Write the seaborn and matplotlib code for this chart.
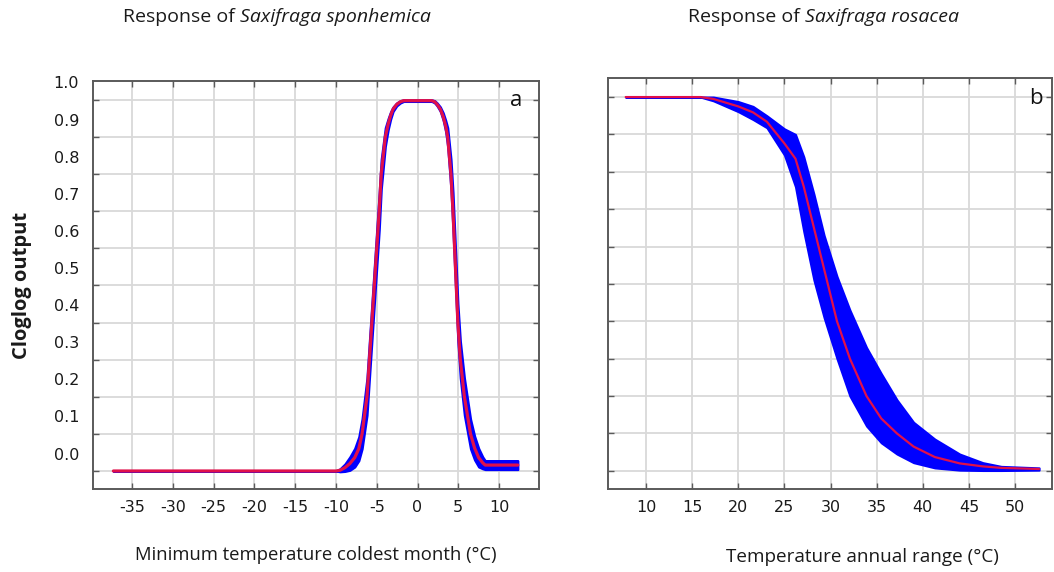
import numpy as np
import pandas as pd
import seaborn as sns
import matplotlib
matplotlib.use("Agg")
import matplotlib.pyplot as plt
from matplotlib.ticker import FixedLocator, FixedFormatter, NullFormatter

# ---------------- data ----------------
# panel a: Minimum temperature coldest month
x_a = [-37.3, -10.0, -9.5, -8.9, -8.3, -7.7, -7.2, -6.8, -6.2, -5.9, -5.6, -5.3, -5.0, -4.7,
       -4.45, -3.95, -3.6, -3.3, -3.0, -2.55, -2.1, -1.7, 0.0, 1.75, 2.1, 2.4, 2.8, 3.15,
       3.45, 3.7, 4.1, 4.35, 4.55, 4.75, 4.95, 5.25, 5.75, 6.5, 7.0, 7.5, 8.0, 8.3, 12.3]
mean_a = [0.0, 0.0, 0.002, 0.009, 0.02, 0.036, 0.06, 0.1, 0.2, 0.3, 0.4, 0.5, 0.6, 0.7,
          0.8, 0.9, 0.935, 0.958, 0.975, 0.988, 0.995, 0.998, 0.998, 0.998, 0.995, 0.988,
          0.975, 0.955, 0.93, 0.9, 0.8, 0.7, 0.6, 0.5, 0.4, 0.3, 0.2, 0.1, 0.062, 0.036,
          0.022, 0.016, 0.016]
sd_a = [0.0, 0.0, 0.004, 0.01, 0.018, 0.025, 0.032, 0.04, 0.05, 0.05, 0.05, 0.05, 0.05,
        0.05, 0.04, 0.025, 0.015, 0.01, 0.006, 0.004, 0.003, 0.002, 0.002, 0.002, 0.003,
        0.004, 0.006, 0.01, 0.015, 0.025, 0.04, 0.05, 0.05, 0.05, 0.05, 0.05, 0.05,
        0.04, 0.032, 0.025, 0.016, 0.012, 0.012]

# panel b: Temperature annual range
x_b = [7.8, 15.9, 17.3, 20.0, 21.6, 23.1, 25.0, 26.2, 27.1, 28.2, 29.3, 30.7, 32.1, 33.9,
       35.5, 37.2, 39.0, 41.3, 44.0, 46.5, 48.5, 52.6]
mean_b = [1.0, 1.0, 0.995, 0.975, 0.959, 0.934, 0.876, 0.835, 0.76, 0.65, 0.54, 0.4, 0.3, 0.2,
          0.14, 0.1, 0.065, 0.037, 0.02, 0.012, 0.008, 0.005]
hi_b = [1.0, 1.0, 1.0, 0.988, 0.975, 0.95, 0.915, 0.9, 0.84, 0.74, 0.63, 0.52, 0.43, 0.33,
        0.26, 0.19, 0.13, 0.085, 0.045, 0.022, 0.012, 0.008]
lo_b = [1.0, 1.0, 0.99, 0.961, 0.94, 0.918, 0.845, 0.76, 0.64, 0.51, 0.41, 0.3, 0.2, 0.12,
        0.075, 0.045, 0.022, 0.008, 0.002, 0.001, 0.001, 0.002]

y_ticks = [0.0, 0.1, 0.2, 0.3, 0.4, 0.5, 0.6, 0.7, 0.8, 0.9, 1.0]
y_labels = ["0.0", "0.1", "0.2", "0.3", "0.4", "0.5", "0.6", "0.7", "0.8", "0.9", "1.0"]
xa_ticks = [-35, -30, -25, -20, -15, -10, -5, 0, 5, 10]
xb_ticks = [10, 15, 20, 25, 30, 35, 40, 45, 50]

# ---------------- style ----------------
sns.set_theme(style="white")
plt.rcParams["font.family"] = ["Open Sans", "DejaVu Sans"]

BLUE = "#0000ff"
RED = "#e0104a"
SPINE = "#5a5a5a"
GRID = "#d9d9d9"
TXT = "#1a1a1a"
TICKFONT = "DejaVu Sans"

fig = plt.figure(figsize=(10.54, 5.72), dpi=100)
ax_a = fig.add_axes([93 / 1054, 1 - 489 / 572, (539 - 93) / 1054, (489 - 81) / 572])
ax_b = fig.add_axes([608 / 1054, 1 - 489 / 572, (1052 - 608) / 1054, (489 - 78) / 572])


def style_axis(ax, xticks, xlim, label_y):
    ax.set_xlim(*xlim)
    ax.set_ylim(-0.0485, 1.051)
    ax.xaxis.set_major_locator(FixedLocator(xticks))
    ax.xaxis.set_major_formatter(FixedFormatter([str(t) for t in xticks]))
    ax.yaxis.set_major_locator(FixedLocator(y_ticks))
    ax.yaxis.set_major_formatter(NullFormatter())
    if label_y:
        ax.yaxis.set_minor_locator(FixedLocator([v + 0.047 for v in y_ticks]))
        ax.yaxis.set_minor_formatter(FixedFormatter(y_labels))
        ax.tick_params(axis="y", which="minor", length=0, left=True, pad=10,
                       labelsize=11.5, labelcolor=TXT, labelfontfamily=TICKFONT)
    ax.grid(True, which="major", color=GRID, linewidth=1.3)
    ax.set_axisbelow(True)
    for s in ax.spines.values():
        s.set_color(SPINE)
        s.set_linewidth(1.4)
    ax.tick_params(axis="both", which="major", direction="in", length=4, width=1,
                   color=SPINE, top=True, right=True, bottom=True, left=True,
                   labelsize=11.5, labelcolor=TXT, labelfontfamily=TICKFONT)
    ax.tick_params(axis="x", which="major", pad=8)
    ax.set_xlabel("")
    ax.set_ylabel("")


# panel a
lo_a = [m - s for m, s in zip(mean_a, sd_a)]
hi_a = [m + s for m, s in zip(mean_a, sd_a)]
ax_a.fill_between(x_a, lo_a, hi_a, color=BLUE, linewidth=1.6, edgecolor=BLUE, zorder=2)
sns.lineplot(x=x_a, y=mean_a, ax=ax_a, color=RED, linewidth=2.3, estimator=None,
             sort=False, zorder=3)
style_axis(ax_a, xa_ticks, (-39.8, 14.9), True)

# panel b
ax_b.fill_between(x_b, lo_b, hi_b, color=BLUE, linewidth=1.5, edgecolor=BLUE, zorder=2)
sns.lineplot(x=x_b, y=mean_b, ax=ax_b, color=RED, linewidth=1.6, estimator=None,
             sort=False, zorder=3)
style_axis(ax_b, xb_ticks, (5.88, 54.0), False)

# panel letters
ax_a.text(0.948, 0.953, "a", transform=ax_a.transAxes, ha="center", va="center",
          fontsize=16, color="#111111")
ax_b.text(0.964, 0.949, "b", transform=ax_b.transAxes, ha="center", va="center",
          fontsize=16, color="#111111")


# titles (normal + italic species)
def title(xpix, ypix, plain, species):
    t1 = fig.text(xpix / 1054, 1 - ypix / 572, plain, ha="left", va="center",
                  fontsize=14, color=TXT)
    fig.add_artist(matplotlib.text.Annotation(
        species, xy=(1, 0.5), xycoords=t1, ha="left", va="center",
        fontsize=14, fontstyle="italic", color=TXT, annotation_clip=False))


title(123, 17, "Response of ", "Saxifraga sponhemica")
title(688, 17, "Response of ", "Saxifraga rosacea")

# axis labels
fig.text(316 / 1054, 1 - 555 / 572, "Minimum temperature coldest month (°C)",
         ha="center", va="center", fontsize=13.3, color=TXT)
fig.text(862 / 1054, 1 - 557 / 572, "Temperature annual range (°C)",
         ha="center", va="center", fontsize=13.6, color=TXT)
fig.text(22 / 1054, 1 - 285 / 572, "Cloglog output", rotation=90, ha="center",
         va="center", fontsize=14.5, fontweight="bold", color=TXT)

fig.savefig("out.png", dpi=100)
